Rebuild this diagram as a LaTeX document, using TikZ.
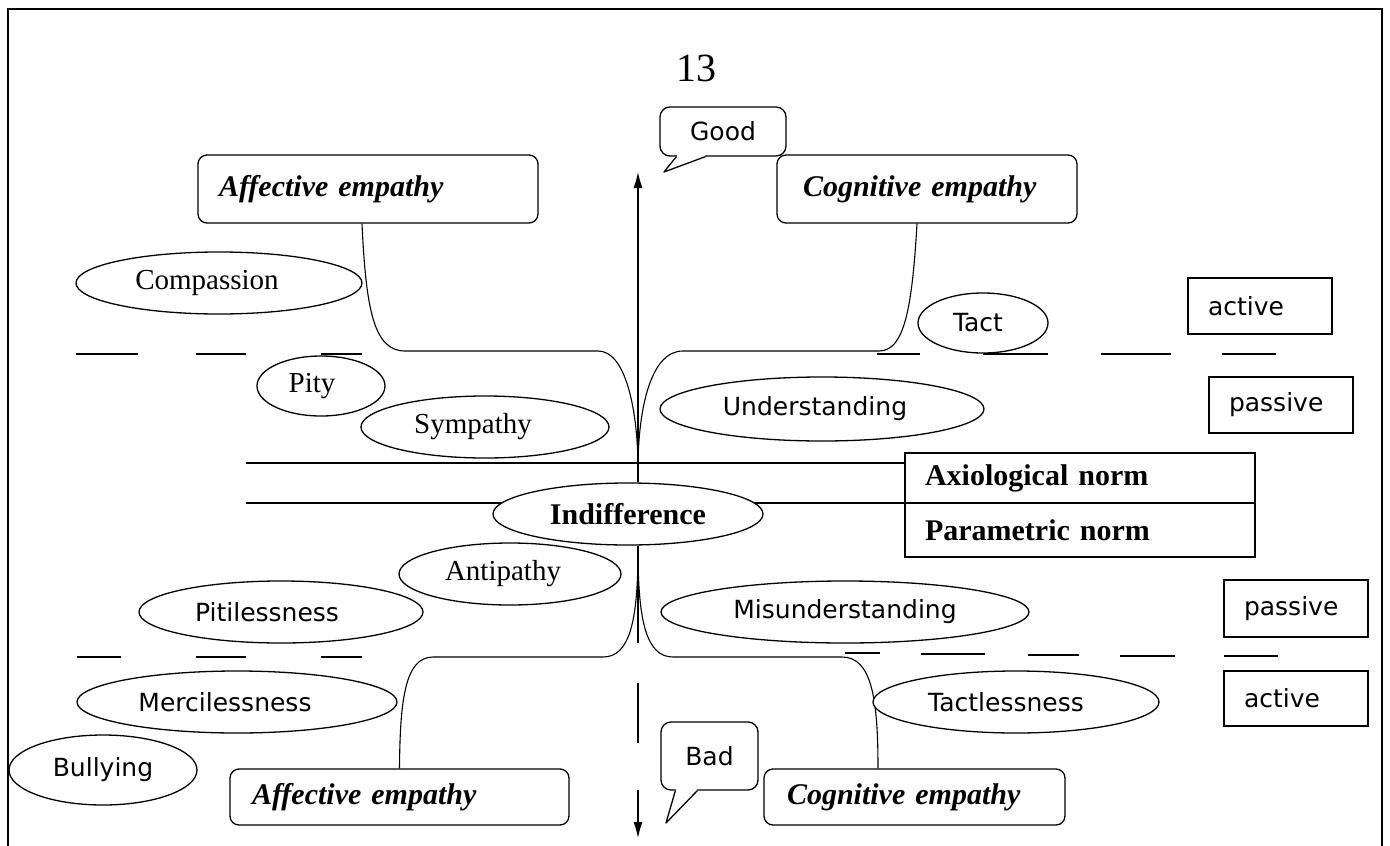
\documentclass[tikz,border=0pt]{standalone}
\usepackage{fontspec}
\setmainfont{Liberation Serif}
\newfontfamily\sansf{DejaVu Sans}
\usetikzlibrary{shapes.geometric,arrows.meta}
\newcommand\ls[2]{#2\hspace*{#1pt}}
\begin{document}
\begin{tikzpicture}[x=1pt,y=-1pt,
  ln/.style={line width=1.1pt},
  oval/.style={ellipse,draw,line width=1.3pt,fill=white,inner sep=0pt},
  sanslbl/.style={font=\sansf\fontsize{25}{30}\selectfont},
  seriflbl/.style={font=\fontsize{29}{34}\selectfont},
  empbox/.style={draw,line width=1.3pt,rounded corners=9pt,fill=white,
    font=\bfseries\itshape\fontsize{30}{36}\selectfont,align=left,inner ysep=0pt},
  tagbox/.style={draw,line width=1.3pt,fill=white,inner ysep=0pt,inner xsep=20pt,
    text width=104pt,align=left,sanslbl},
  normbox/.style={draw,line width=1.3pt,fill=white,inner ysep=0pt,inner xsep=20pt,
    text width=310pt,align=left,font=\bfseries\fontsize{30}{36}\selectfont},
  callout/.style={draw,line width=1.3pt,rounded corners=10pt,fill=white,inner sep=0pt,sanslbl},
  arr/.style={ln,-{Latex[length=16pt,width=9pt]}}
]
\useasboundingbox (0,0) rectangle (1390,846);
% frame
\draw[line width=1.5pt] (8,846) -- (8,9) -- (1382,9) -- (1382,846);

\node[font=\fontsize{40}{44}\selectfont] (pg) at (696,68) {13};

% boxes
\node[empbox,text width=298pt,inner xsep=21pt,minimum height=68pt] (affT) at (368,189) {Affective empathy};
\node[empbox,text width=248pt,inner xsep=26pt,minimum height=68pt] (cogT) at (927,189) {Cognitive empathy};
\node[empbox,text width=295pt,inner xsep=22pt,minimum height=56pt] (affB) at (399.5,797) {Affective empathy};
\node[empbox,text width=255pt,inner xsep=23pt,minimum height=56pt] (cogB) at (914.5,797) {Cognitive empathy};

\node[tagbox,minimum height=56pt] (act1) at (1260,306) {active};
\node[tagbox,minimum height=56pt] (pas1) at (1281,405) {passive};
\node[tagbox,minimum height=57pt] (pas2) at (1296,608.5) {passive};
\node[tagbox,minimum height=55pt] (act2) at (1296,698.5) {active};

\node[normbox,minimum height=50pt] (axio) at (1080,478) {Axiological norm};
\node[normbox,minimum height=54pt] (param) at (1080,530) {Parametric norm};

% horizontal norm lines
\coordinate (hA) at (246,463);
\coordinate (hP) at (246,503);
\draw[ln] (hA) -- (hA -| axio.west);
\draw[ln] (hP) -- (hP -| param.west);

% dashed separators
\draw[ln] (76,354)--(138,354) (196,354)--(246,354) (321,354)--(362,354);
\draw[ln] (877,354)--(920,354) (983,354)--(1048,354) (1101,354)--(1171,354) (1222,354)--(1276,354);
\draw[ln] (77,657)--(121,657) (196,657)--(246,657) (321,657)--(362,657);
\draw[ln] (845,653)--(880,653) (921,654)--(985,654) (1028,655)--(1079,655) (1120,656)--(1175,656) (1224,656)--(1278,656);

% junctions
\coordinate (j1) at (638,462);
\coordinate (j2) at (638,560);
\coordinate (top) at (638,172);
\coordinate (bot) at (638,838);
\coordinate (v1) at (638,643);
\coordinate (v2) at (638,683);
\coordinate (v3) at (638,743);
\coordinate (v4) at (638,790);

% curved connectors
\draw[ln] ([xshift=-6pt]affT.south) .. controls (366,310) and (374,351) .. (405,351) -- (598,351) .. controls (626,351) and (637,410) .. (j1);
\draw[ln] ([xshift=-10pt]cogT.south) .. controls (912,310) and (904,351) .. (879,351) -- (683,351) .. controls (650,351) and (639,410) .. (j1);
\draw[ln] (j2) .. controls (637,620) and (630,657) .. (603,657) -- (433,657) .. controls (405,657) and (400,700) .. (affB.north);
\draw[ln] (j2) .. controls (639,620) and (646,657) .. (673,657) -- (842,657) .. controls (872,657) and (878,700) .. ([xshift=-36.5pt]cogB.north);

% ellipses
\node[oval,minimum width=270pt,minimum height=62pt,font=\bfseries\fontsize{30}{36}\selectfont] (indiff) at (628,514) {Indifference};
\node[oval,minimum width=286pt,minimum height=62pt,seriflbl] (compassion) at (219,283) {\ls{24}{Compassion}};
\node[oval,minimum width=128pt,minimum height=60pt,seriflbl] (pity) at (321,386) {\ls{18}{Pity}};
\node[oval,minimum width=248pt,minimum height=62pt,seriflbl] (sympathy) at (485,427) {\ls{24}{Sympathy}};
\node[oval,minimum width=130pt,minimum height=60pt,sanslbl] (tact) at (983,323) {\ls{10}{Tact}};
\node[oval,minimum width=324pt,minimum height=64pt,sanslbl] (understanding) at (822,409) {\ls{14}{Understanding}};
\node[oval,minimum width=222pt,minimum height=62pt,seriflbl] (antipathy) at (510,574) {\ls{14}{Antipathy}};
\node[oval,minimum width=284pt,minimum height=62pt,sanslbl] (pitiless) at (281,612) {\ls{28}{Pitilessness}};
\node[oval,minimum width=368pt,minimum height=62pt,sanslbl] (misunder) at (845,612) {Misunderstanding};
\node[oval,minimum width=320pt,minimum height=62pt,sanslbl] (merciless) at (237,702) {\ls{24}{Mercilessness}};
\node[oval,minimum width=286pt,minimum height=62pt,sanslbl] (tactless) at (1016,702) {\ls{20}{Tactlessness}};
\node[oval,minimum width=188pt,minimum height=70pt,sanslbl] (bullying) at (103,770) {Bullying};

% vertical axis
\draw[arr] (indiff.north -| top) -- (top);
\draw[ln] (indiff.south -| top) -- (v1);
\draw[ln] (v2) -- (v3);
\draw[arr] (v4) -- (bot);

% callouts
\node[callout,minimum width=126pt,minimum height=49pt] (good) at (723,131.5) {Good};
\fill[white] ([xshift=17.5pt,yshift=1.5pt]good.south west) rectangle ([xshift=45.5pt,yshift=-1.5pt]good.south west);
\draw[line width=1.3pt,line join=round] ([xshift=17pt]good.south west) -- (664,172) -- ([xshift=46pt]good.south west);

\node[callout,minimum width=97pt,minimum height=68pt] (bad) at (709.5,756) {Bad};
\fill[white] ([xshift=15.5pt,yshift=1.5pt]bad.south west) rectangle ([xshift=36.5pt,yshift=-1.5pt]bad.south west);
\draw[line width=1.3pt,line join=round] ([xshift=15pt]bad.south west) -- (666,823) -- ([xshift=37pt]bad.south west);
\end{tikzpicture}
\end{document}
